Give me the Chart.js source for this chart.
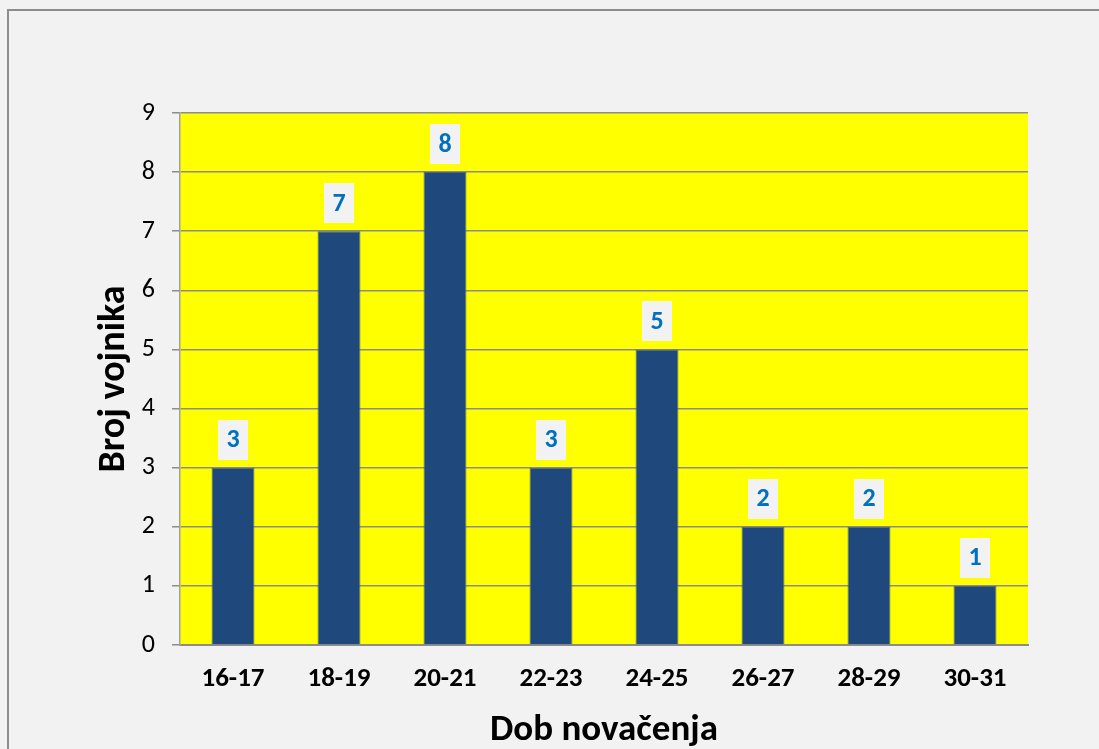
<!DOCTYPE html>
<html>
<head>
<meta charset="utf-8">
<script src="https://cdn.jsdelivr.net/npm/chart.js@4.4.1/dist/chart.umd.min.js"></script>
<style>
  html, body { margin: 0; padding: 0; background: #F2F2F2; }
  canvas { display: block; }
</style>
</head>
<body>
<canvas id="c" width="1099" height="749"></canvas>
<script>
const categories = ["16-17", "18-19", "20-21", "22-23", "24-25", "26-27", "28-29", "30-31"];
const soldierCounts = [3, 7, 8, 3, 5, 2, 2, 1];
const yTickValues = [0, 1, 2, 3, 4, 5, 6, 7, 8, 9];
const xAxisTitle = "Dob novačenja";
const yAxisTitle = "Broj vojnika";

const FONT = "'Carlito', 'Open Sans', 'Noto Sans', sans-serif";

const backgroundPlugin = {
  id: 'bg',
  beforeDraw(chart) {
    const ctx = chart.ctx;
    const a = chart.chartArea;
    ctx.save();
    ctx.fillStyle = '#F2F2F2';
    ctx.fillRect(0, 0, chart.width, chart.height);
    ctx.strokeStyle = '#8c8c8c';
    ctx.lineWidth = 2;
    ctx.strokeRect(8, 10, chart.width + 50, chart.height + 50);
    ctx.fillStyle = '#FFFF00';
    ctx.fillRect(a.left, a.top, a.right - a.left, a.bottom - a.top);
    ctx.restore();
  }
};

const labelPlugin = {
  id: 'valueLabels',
  afterDatasetsDraw(chart) {
    const ctx = chart.ctx;
    const meta = chart.getDatasetMeta(0);
    const data = chart.data.datasets[0].data;
    ctx.save();
    meta.data.forEach((bar, i) => {
      const w = 30, h = 40, gap = 8;
      const x = bar.x, y = bar.y;
      ctx.fillStyle = '#F2F2F2';
      ctx.fillRect(Math.round(x - w / 2), Math.round(y - gap - h), w, h);
      ctx.fillStyle = '#0070C0';
      ctx.font = "bold 26px " + FONT;
      ctx.textAlign = 'center';
      ctx.textBaseline = 'middle';
      ctx.fillText(String(data[i]), x, y - gap - h / 2 + 1);
    });
    ctx.restore();
  }
};

new Chart(document.getElementById('c'), {
  type: 'bar',
  data: {
    labels: categories,
    datasets: [{
      data: soldierCounts,
      backgroundColor: '#1F497D',
      borderColor: '#4f6580',
      borderWidth: 1,
      barPercentage: 0.405,
      categoryPercentage: 1.0
    }]
  },
  options: {
    responsive: false,
    animation: false,
    layout: { padding: { top: 113, right: 71, left: 0, bottom: 0 } },
    plugins: {
      legend: { display: false },
      tooltip: { enabled: false }
    },
    scales: {
      x: {
        grid: { display: false, drawTicks: false },
        border: { display: true, color: '#8c8c8c', width: 2 },
        ticks: {
          color: '#000',
          font: { family: FONT, size: 27, weight: 'bold' },
          padding: 18,
          maxRotation: 0
        },
        title: {
          display: true,
          text: xAxisTitle,
          color: '#000',
          font: { family: FONT, size: 37, weight: 'bold' },
          padding: { top: 0, bottom: -4 }
        },
        afterFit(scale) { scale.height = 104; }
      },
      y: {
        min: 0,
        max: 9,
        afterBuildTicks(scale) { scale.ticks = yTickValues.map(v => ({ value: v })); },
        grid: { color: '#8c8c8c', lineWidth: 1.5, tickLength: 8, drawTicks: true },
        border: { display: true, color: '#a0a0a0', width: 1.5 },
        ticks: {
          color: '#000',
          font: { family: FONT, size: 26 },
          padding: 17
        },
        title: {
          display: true,
          text: yAxisTitle,
          color: '#000',
          font: { family: FONT, size: 38, weight: 'bold' },
          padding: { top: 92, bottom: 0 }
        },
        afterFit(scale) { scale.width = 180; }
      }
    }
  },
  plugins: [backgroundPlugin, labelPlugin]
});
</script>
</body>
</html>
